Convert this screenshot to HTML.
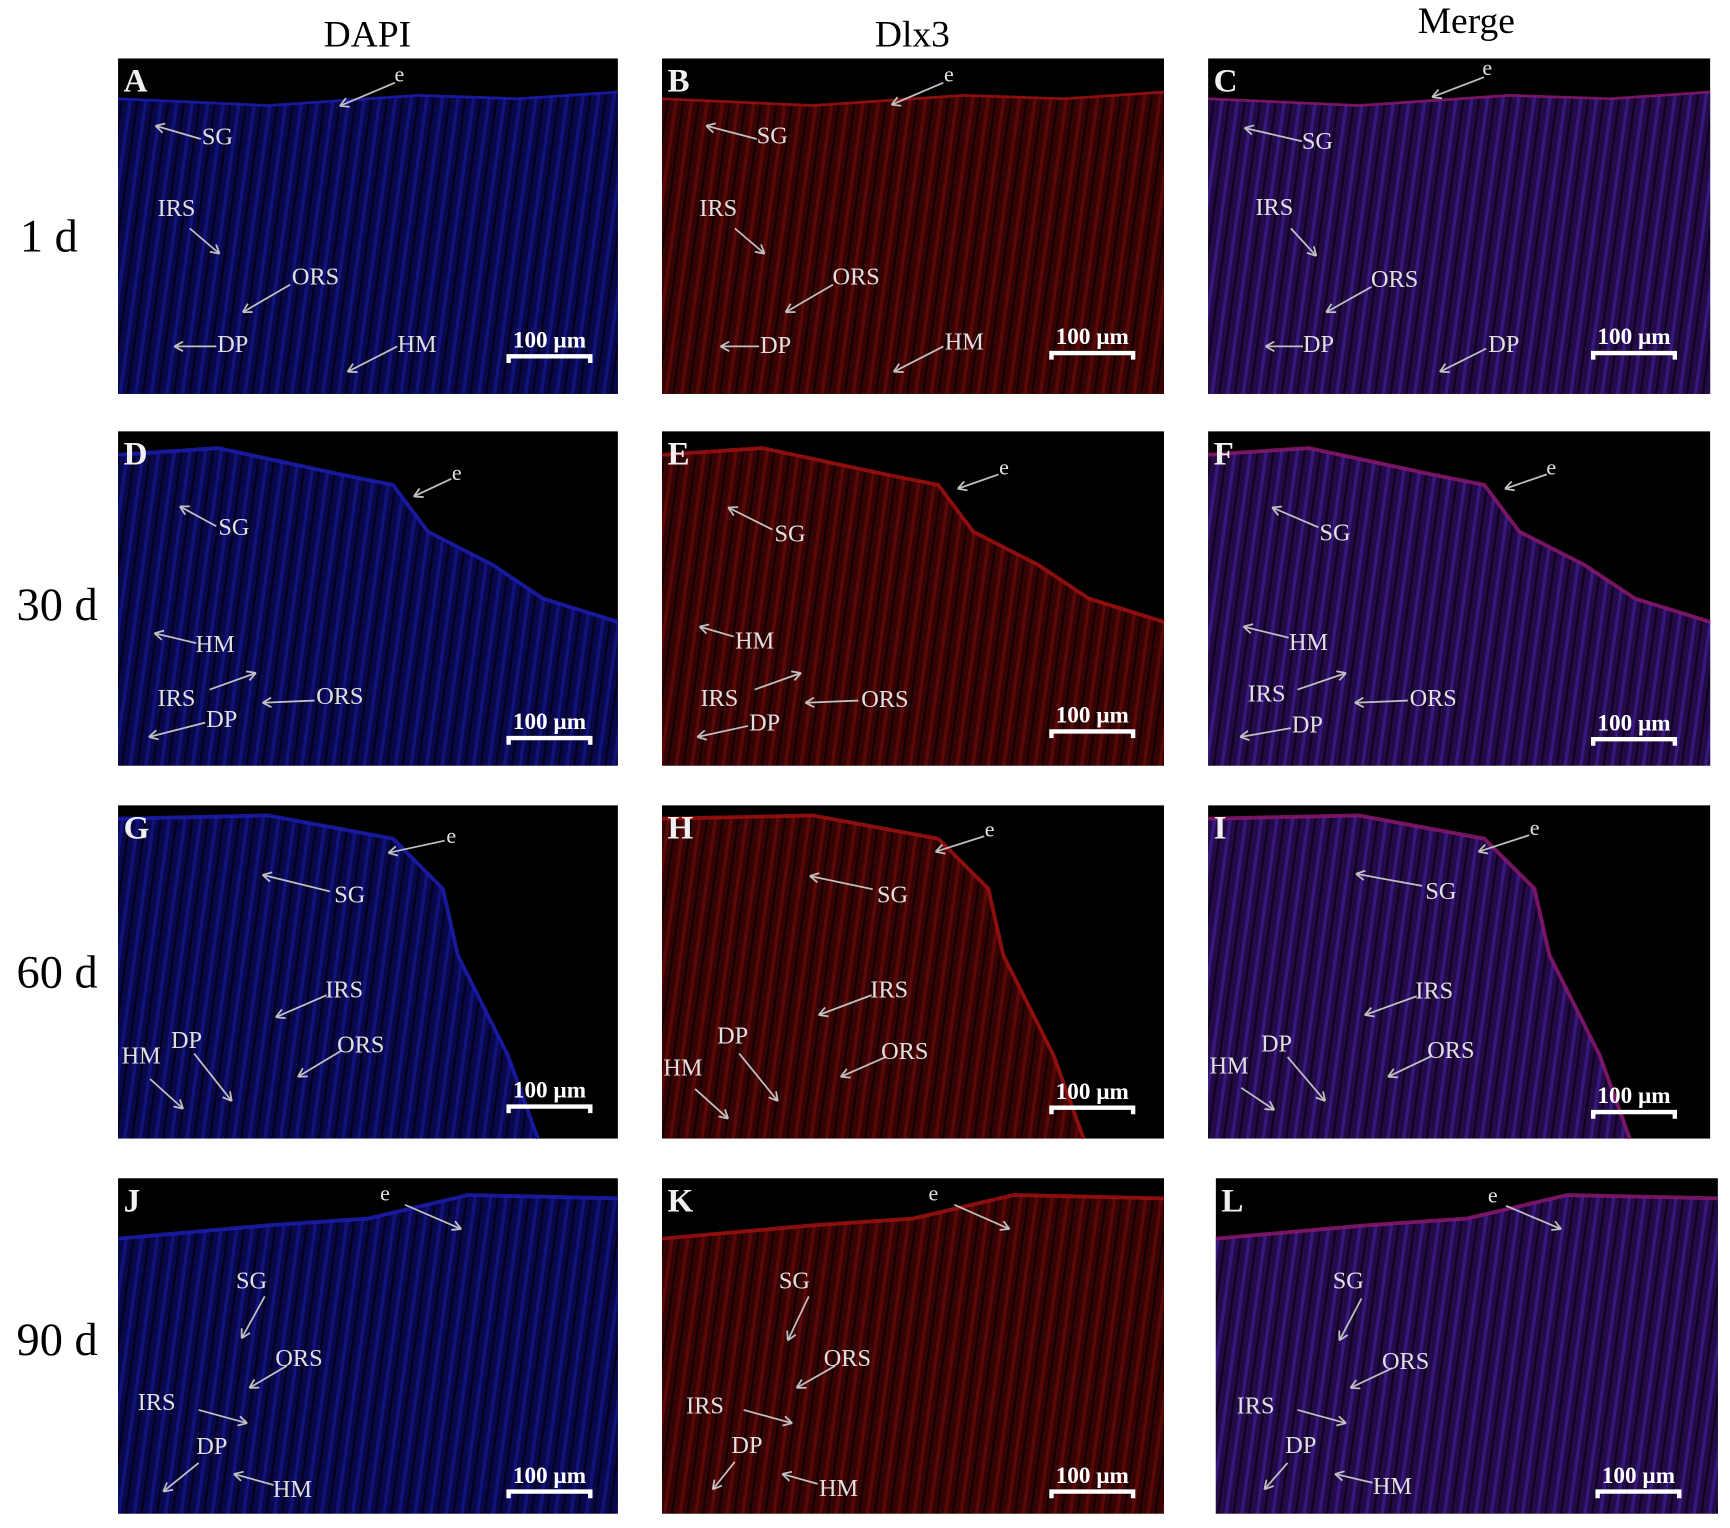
<!DOCTYPE html>
<html><head><meta charset="utf-8"><style>
html,body{margin:0;padding:0;background:#fff;}
svg{display:block;}
text{font-family:"Liberation Serif",serif;}
</style></head><body>
<svg id="fig" xmlns="http://www.w3.org/2000/svg" width="1730" height="1528" viewBox="0 0 1568 1385" preserveAspectRatio="none">
<defs>
<pattern id="pB" width="14" height="40" patternUnits="userSpaceOnUse" patternTransform="rotate(8)">
<rect width="14" height="40" fill="#08084a"/><rect x="2" width="3" height="40" fill="#12127c"/><rect x="9" width="2" height="40" fill="#03031c"/></pattern>
<pattern id="pR" width="14" height="40" patternUnits="userSpaceOnUse" patternTransform="rotate(8)">
<rect width="14" height="40" fill="#360404"/><rect x="2" width="3" height="40" fill="#5a0808"/><rect x="9" width="2" height="40" fill="#160101"/></pattern>
<pattern id="pM" width="14" height="40" patternUnits="userSpaceOnUse" patternTransform="rotate(8)">
<rect width="14" height="40" fill="#240a46"/><rect x="2" width="3" height="40" fill="#341a80"/><rect x="9" width="2" height="40" fill="#0e0420"/></pattern>
</defs>
<g id="titles"></g>
<g id="panels"></g>
</svg>
<script>
const colTitles=["DAPI","Dlx3","Merge"];
const rowTitles=["1 d","30 d","60 d","90 d"];
const letters=["A","B","C","D","E","F","G","H","I","J","K","L"];
const colX=[107,600,1095];
const colW=[453,455,455];
const rowY=[53,391,730,1068];
const rowH=[304,303,302,304];
const fills=["url(#pB)","url(#pR)","url(#pM)"];
const edge=["#1c1cb0","#a01010","#8a1870"];
const shapes=[
 [[0,0.12],[0.3,0.14],[0.6,0.11],[0.8,0.12],[1,0.1],[1,1],[0,1]],
 [[0,0.07],[0.2,0.05],[0.45,0.13],[0.55,0.16],[0.62,0.3],[0.75,0.4],[0.85,0.5],[1,0.57],[1,1],[0,1]],
 [[0,0.04],[0.3,0.03],[0.55,0.1],[0.65,0.25],[0.68,0.45],[0.78,0.75],[0.84,1],[0,1]],
 [[0,0.18],[0.3,0.14],[0.5,0.12],[0.7,0.05],[1,0.06],[1,1],[0,1]]
];
const ann=[
[["e",362,66,358,75,308,96],["SG",197,123,182,126,141,114],["IRS",160,188,172,207,199,230],["ORS",286,250,263,258,220,283],["DP",211,311,196,314,158,314],["HM",378,311,360,314,315,337]],
[["e",860,66,855,75,808,95],["SG",700,122,686,126,640,114],["IRS",651,188,666,207,693,230],["ORS",776,250,755,258,712,283],["DP",703,312,688,314,653,314],["HM",874,309,855,314,810,337]],
[["e",1348,60,1345,70,1298,88],["SG",1194,127,1180,128,1128,116],["IRS",1155,187,1170,207,1193,232],["ORS",1264,252,1243,260,1202,283],["DP",1195,311,1181,314,1147,314],["DP",1363,311,1347,316,1305,337]],
[["e",414,427,409,434,375,450],["SG",212,477,196,477,163,459],["HM",195,583,178,583,140,574],["IRS",160,632,190,625,232,610],["ORS",308,630,285,635,238,637],["DP",201,651,186,655,135,668]],
[["e",910,422,905,430,868,443],["SG",716,483,700,480,660,460],["HM",684,580,665,577,634,568],["IRS",652,632,684,625,726,610],["ORS",802,633,778,635,730,637],["DP",693,654,678,658,632,668]],
[["e",1406,422,1402,430,1364,443],["SG",1210,482,1195,478,1153,460],["HM",1186,581,1168,578,1127,568],["IRS",1148,628,1176,625,1220,610],["ORS",1299,632,1276,635,1228,637],["DP",1185,656,1170,660,1124,668]],
[["e",409,756,403,762,352,773],["SG",317,810,299,808,238,793],["IRS",312,896,296,902,250,922],["DP",169,942,176,955,210,998],["HM",128,956,136,978,166,1005],["ORS",327,946,310,952,270,976]],
[["e",897,750,892,758,848,772],["SG",809,810,791,806,734,794],["IRS",806,896,790,902,742,920],["DP",664,938,670,955,705,998],["HM",619,967,630,987,660,1014],["ORS",820,952,803,958,762,976]],
[["e",1391,749,1386,757,1340,772],["SG",1306,807,1289,803,1229,792],["IRS",1300,897,1284,903,1237,920],["DP",1157,945,1167,958,1201,998],["HM",1114,965,1125,986,1155,1006],["ORS",1315,951,1298,957,1258,976]],
[["e",349,1080,367,1092,418,1114],["SG",228,1160,240,1175,219,1213],["ORS",271,1230,260,1238,226,1258],["IRS",142,1270,180,1278,224,1290],["DP",192,1310,180,1326,148,1352],["HM",265,1349,248,1346,212,1336]],
[["e",846,1080,865,1092,915,1114],["SG",720,1160,733,1175,714,1215],["ORS",768,1230,757,1238,722,1258],["IRS",639,1273,674,1278,718,1290],["DP",677,1309,666,1325,646,1350],["HM",760,1348,741,1345,709,1336]],
[["e",1353,1082,1365,1093,1415,1114],["SG",1222,1160,1234,1177,1214,1215],["ORS",1274,1233,1262,1240,1224,1258],["IRS",1138,1273,1176,1278,1220,1290],["DP",1179,1309,1167,1326,1146,1350],["HM",1262,1346,1244,1344,1210,1336]]
];
const scaleX=[498,990,1481,498,990,1481,498,990,1481,498,990,1485];
const scaleY=[308,305,305,654,648,655,988,989,993,1337,1337,1337];
const NS="http://www.w3.org/2000/svg";
function mk(tag,attrs,parent){const e=document.createElementNS(NS,tag);for(const k in attrs)e.setAttribute(k,attrs[k]);parent.appendChild(e);return e;}
const T=document.getElementById("titles"),P=document.getElementById("panels");
const ctx=[333,827,1329],cty=[42,42,30];
colTitles.forEach((t,i)=>{const e=mk("text",{x:ctx[i],y:cty[i],"text-anchor":"middle","font-size":34,fill:"#000"},T);e.textContent=t;

});
const rty=[228,562,895,1228];
rowTitles.forEach((t,i)=>{const e=mk("text",{x:i==0?18:15,y:rty[i],"font-size":42,fill:"#000"},T);e.textContent=t;

});
for(let r=0;r<4;r++)for(let c=0;c<3;c++){
 const idx=r*3+c,x=colX[c]+(idx==11?7:0),y=rowY[r],w=colW[c],h=rowH[r];
 const g=mk("g",{},P);
 
 
 mk("rect",{x:x,y:y,width:w,height:h,fill:"#000"},g);
 const pts=shapes[r].map(p=>(x+p[0]*w).toFixed(1)+","+(y+p[1]*h).toFixed(1)).join(" ");
 mk("polygon",{points:pts,fill:fills[c]},g);
 const top=shapes[r].slice(0,r==2?-1:-2).map(p=>(x+p[0]*w).toFixed(1)+","+(y+p[1]*h).toFixed(1)).join(" ");
 mk("polyline",{points:top,fill:"none",stroke:edge[c],"stroke-width":r==0?2.5:3.5,opacity:0.85},g);
 const L=mk("text",{x:x+5,y:y+30,"font-size":30,"font-weight":"bold",fill:"#f0f0f0"},g);L.textContent=letters[idx];
 
 
 ann[idx].forEach(a=>{
  const ln=mk("line",{x1:a[3],y1:a[4],x2:a[5],y2:a[6],stroke:"#c0c0c0","stroke-width":1.6},g);
  
  
  const ang=Math.atan2(a[6]-a[4],a[5]-a[3]);
  [0.5,-0.5].forEach(d=>{mk("line",{x1:a[5],y1:a[6],x2:a[5]-9*Math.cos(ang+d),y2:a[6]-9*Math.sin(ang+d),stroke:"#c0c0c0","stroke-width":1.6},g);});
  const t=mk("text",{x:a[1],y:a[2]+8,"text-anchor":"middle","font-size":a[0]=="e"?20:22,fill:"#e0e0e0"},g);t.textContent=a[0];
  
  
 });
 const sx=scaleX[idx],sy=scaleY[idx];
 const st=mk("text",{x:sx,y:sy+7,"text-anchor":"middle","font-size":21,"font-weight":"bold",fill:"#fff"},g);st.textContent="100 µm";
 
 
 const sb=mk("polyline",{points:`${sx-37},${sy+21} ${sx-37},${sy+15} ${sx+37},${sy+15} ${sx+37},${sy+21}`,fill:"none",stroke:"#fff","stroke-width":4},g);
 
 
}
</script>
</body></html>
